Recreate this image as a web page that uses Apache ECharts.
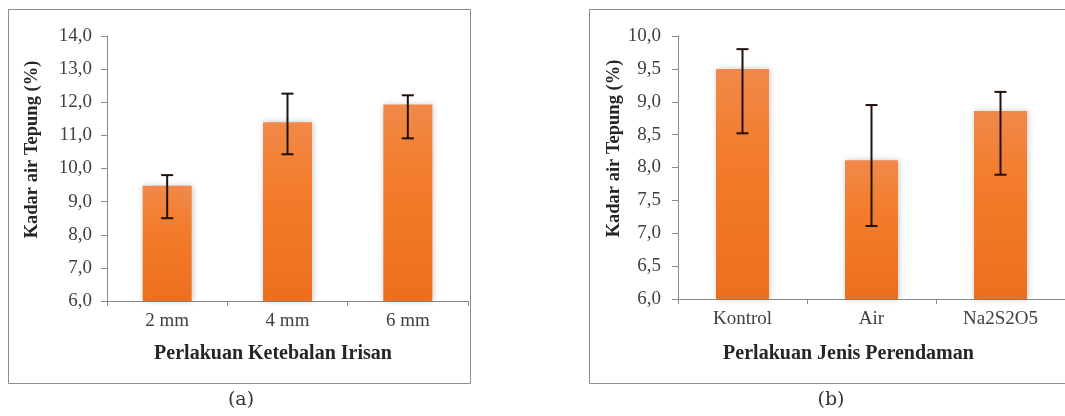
<!DOCTYPE html>
<html>
<head>
<meta charset="utf-8">
<script src="https://cdn.jsdelivr.net/npm/echarts@6/dist/echarts.min.js"></script>
<style>
html,body{margin:0;padding:0;background:#fff;}
#chart{width:1065px;height:416px;}
</style>
</head>
<body>
<div id="chart"></div>
<script>
// ---- Data ----
const categoriesA = ['2 mm', '4 mm', '6 mm'];
const valuesA     = [9.48, 11.40, 11.93];
const errHighA    = [9.80, 12.26, 12.21];
const errLowA     = [8.50, 10.43, 10.91];

const categoriesB = ['Kontrol', 'Air', 'Na2S2O5'];
const valuesB     = [9.50, 8.11, 8.86];
const errHighB    = [9.80, 8.95, 9.15];
const errLowB     = [8.52, 7.11, 7.89];

const yAxisTitle = 'Kadar air Tepung (%)';
const xAxisTitleA = 'Perlakuan Ketebalan Irisan';
const xAxisTitleB = 'Perlakuan Jenis Perendaman';
const captionA = '(a)';
const captionB = '(b)';

// ---- Styling ----
const serif = 'Liberation Serif';
const axisGray = '#8a8a8a';
const labelColor = '#404040';
const barGradient = new echarts.graphic.LinearGradient(0, 0, 0, 1, [
  {offset: 0, color: '#F1894A'},
  {offset: 0.35, color: '#F27D2C'},
  {offset: 1, color: '#EC6F1E'}
]);
const fmt = v => v.toFixed(1).replace('.', ',');

function errorData(low, high) {
  return low.map((l, i) => [i, l, high[i]]);
}
function errorRender(params, api) {
  const lo = api.coord([api.value(0), api.value(1)]);
  const hi = api.coord([api.value(0), api.value(2)]);
  const cap = 6;
  const style = {stroke: '#22100a', lineWidth: 2, fill: null};
  return {
    type: 'group',
    children: [
      {type: 'line', shape: {x1: hi[0], y1: hi[1], x2: lo[0], y2: lo[1]}, style},
      {type: 'line', shape: {x1: hi[0] - cap, y1: hi[1], x2: hi[0] + cap, y2: hi[1]}, style},
      {type: 'line', shape: {x1: lo[0] - cap, y1: lo[1], x2: lo[0] + cap, y2: lo[1]}, style}
    ]
  };
}

function xAxisCfg(gridIndex, cats, name, nameGap, padRight) {
  return {
    type: 'category', gridIndex, data: cats,
    name, nameLocation: 'middle', nameGap,
    nameTextStyle: {fontFamily: serif, fontWeight: 'bold', fontSize: 20, color: '#262626', padding: [0, padRight, 0, 0]},
    axisLine: {show: true, lineStyle: {color: axisGray, width: 1}},
    axisTick: {show: true, length: 5, alignWithLabel: false, lineStyle: {color: axisGray}},
    axisLabel: {fontFamily: serif, fontSize: 19, color: labelColor, margin: 11},
    splitLine: {show: false}
  };
}
function yAxisCfg(gridIndex, min, max, interval, nameGap, labelMargin, shiftUp) {
  return {
    type: 'value', gridIndex, min, max, interval,
    name: yAxisTitle, nameLocation: 'middle', nameGap, nameRotate: 90,
    nameTextStyle: {fontFamily: serif, fontWeight: 'bold', fontSize: 18.5, color: '#262626', padding: [0, 0, 0, shiftUp * 2]},
    axisLine: {show: true, lineStyle: {color: axisGray, width: 1}},
    axisTick: {show: true, length: 6, lineStyle: {color: axisGray}},
    axisLabel: {fontFamily: serif, fontSize: 19, color: labelColor, margin: labelMargin, formatter: fmt},
    splitLine: {show: false}
  };
}
function barSeries(idx, vals, width) {
  return {
    type: 'bar', xAxisIndex: idx, yAxisIndex: idx, data: vals, barWidth: width,
    itemStyle: {color: barGradient, shadowBlur: 6, shadowColor: 'rgba(0,0,0,0.22)', shadowOffsetX: 1, shadowOffsetY: 0},
    silent: true, z: 2
  };
}
function errSeries(idx, low, high) {
  return {
    type: 'custom', xAxisIndex: idx, yAxisIndex: idx,
    data: errorData(low, high), renderItem: errorRender, silent: true, z: 5
  };
}

const chart = echarts.init(document.getElementById('chart'), null, {renderer: 'canvas'});
chart.setOption({
  backgroundColor: '#ffffff',
  animation: false,
  textStyle: {fontFamily: serif},
  graphic: [
    {type: 'rect', shape: {x: 8.5, y: 9.5, width: 462, height: 374}, style: {fill: null, stroke: '#8c8c8c', lineWidth: 1}, z: -1},
    {type: 'rect', shape: {x: 589.5, y: 9.5, width: 520, height: 374}, style: {fill: null, stroke: '#8c8c8c', lineWidth: 1}, z: -1},
    {type: 'text', x: 241, y: 400, style: {text: captionA, fontFamily: 'DejaVu Serif', fontSize: 19, fill: '#333', align: 'center', verticalAlign: 'middle'}},
    {type: 'text', x: 831, y: 400, style: {text: captionB, fontFamily: 'DejaVu Serif', fontSize: 19, fill: '#333', align: 'center', verticalAlign: 'middle'}}
  ],
  grid: [
    {left: 107, top: 36, width: 361, height: 265},
    {left: 678, top: 36, width: 397, height: 263}
  ],
  xAxis: [
    xAxisCfg(0, categoriesA, xAxisTitleA, 43, 29),
    xAxisCfg(1, categoriesB, xAxisTitleB, 45, 46)
  ],
  yAxis: [
    yAxisCfg(0, 6, 14, 1, 65, 15, 19),
    yAxisCfg(1, 6, 10, 0.5, 53, 17, 19)
  ],
  series: [
    barSeries(0, valuesA, 49),
    errSeries(0, errLowA, errHighA),
    barSeries(1, valuesB, 53),
    errSeries(1, errLowB, errHighB)
  ]
});
</script>
</body>
</html>
